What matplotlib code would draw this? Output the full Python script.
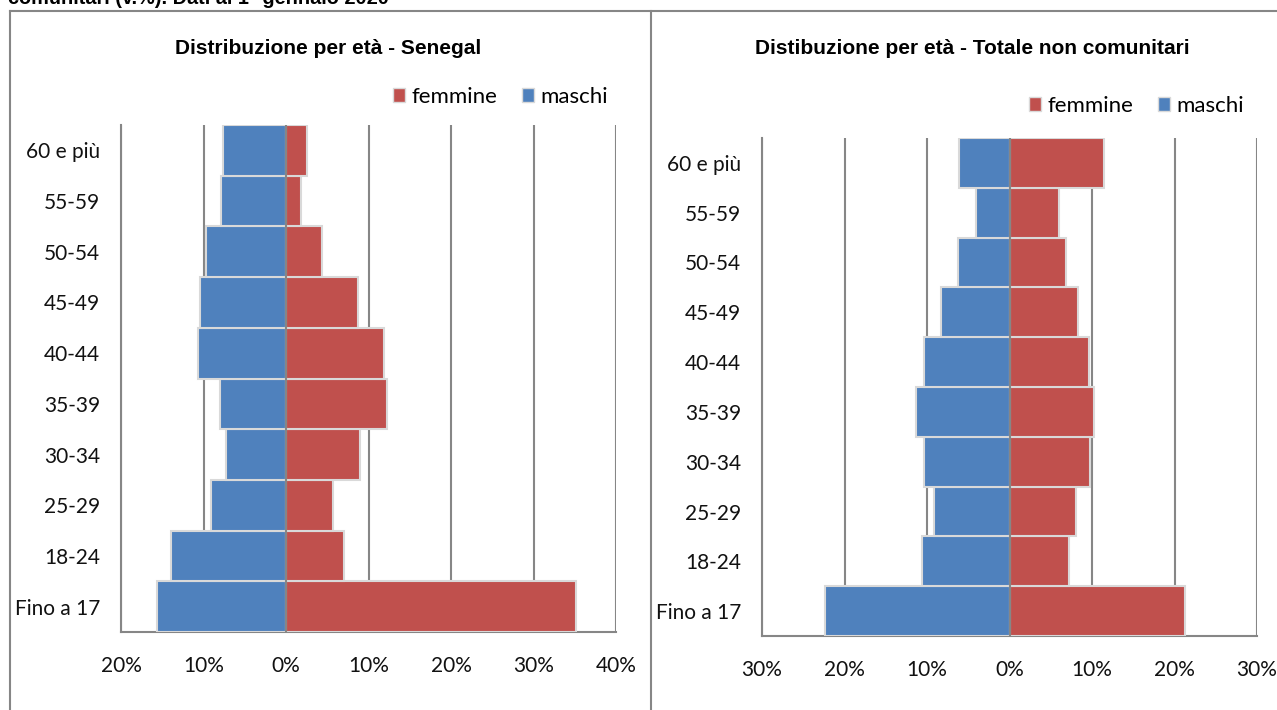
import matplotlib
matplotlib.use("Agg")
import matplotlib.pyplot as plt
from matplotlib.patches import Patch
from matplotlib.lines import Line2D
from matplotlib.ticker import FuncFormatter

categories = ["Fino a 17", "18-24", "25-29", "30-34", "35-39", "40-44",
              "45-49", "50-54", "55-59", "60 e più"]

sen_maschi = [15.6, 13.9, 9.1, 7.3, 8.0, 10.7, 10.4, 9.7, 7.9, 7.6]
sen_femmine = [35.2, 7.0, 5.7, 9.0, 12.2, 11.9, 8.7, 4.4, 1.8, 2.5]

tot_maschi = [22.4, 10.6, 9.1, 10.4, 11.3, 10.4, 8.3, 6.2, 4.1, 6.1]
tot_femmine = [21.3, 7.2, 8.0, 9.8, 10.3, 9.6, 8.3, 6.8, 6.0, 11.5]

sen_ticks = [-20, -10, 0, 10, 20, 30, 40]
tot_ticks = [-30, -20, -10, 0, 10, 20, 30]

title_sen = "Distribuzione per età - Senegal"
title_tot = "Distibuzione per età - Totale non comunitari"
top_text = "comunitari (v.%). Dati al 1° gennaio 2020"

BLUE = "#4F81BD"
RED = "#C0504D"
GRID = "#868686"
EDGE = "#D9D9D9"
FONT = "Lato"

W, H = 1277, 710
fig = plt.figure(figsize=(W / 100, H / 100), dpi=100)
fig.patch.set_facecolor("white")


def px_ax(x0, y0, x1, y1):
    return fig.add_axes([x0 / W, 1 - y1 / H, (x1 - x0) / W, (y1 - y0) / H])


def draw(ax, maschi, femmine, ticks, lim):
    y = list(range(len(categories)))
    neg = [-v for v in maschi]
    ax.barh(y, neg, height=1.0, color=BLUE, edgecolor=EDGE, linewidth=1.5, zorder=3)
    ax.barh(y, femmine, height=1.0, color=RED, edgecolor=EDGE, linewidth=1.5, zorder=3)
    ax.axvline(0, color=GRID, lw=1.5, zorder=4)
    for t in ticks:
        if t != 0:
            ax.axvline(t, color=GRID, lw=1.5, zorder=1)
    ax.set_xlim(lim)
    ax.set_ylim(-0.5, len(categories) - 0.5)
    ax.set_xticks(ticks)
    ax.xaxis.set_major_formatter(FuncFormatter(lambda v, p: f"{abs(int(round(v)))}%"))
    ax.set_yticks(y)
    ax.set_yticklabels(categories)
    for s in ["top", "right"]:
        ax.spines[s].set_visible(False)
    for s in ["left", "bottom"]:
        ax.spines[s].set_color(GRID)
        ax.spines[s].set_linewidth(1.5)
    ax.tick_params(axis="both", length=0, labelsize=15, colors="#111111")
    ax.tick_params(axis="x", pad=17)
    ax.tick_params(axis="y", pad=15)
    for lab in ax.get_xticklabels() + ax.get_yticklabels():
        lab.set_fontfamily(FONT)


ax1 = px_ax(121, 125, 616, 632)
draw(ax1, sen_maschi, sen_femmine, sen_ticks, (-20, 40))
ax2 = px_ax(762, 138, 1257, 636)
draw(ax2, tot_maschi, tot_femmine, tot_ticks, (-30, 30))

fig.text(328 / W, 1 - 49 / H, title_sen, ha="center", va="center",
         fontsize=15, fontweight="bold", family="Liberation Sans")
fig.text(972 / W, 1 - 49 / H, title_tot, ha="center", va="center",
         fontsize=15, fontweight="bold", family="Liberation Sans")
fig.text(8 / W, 1 - 4 / H, top_text, ha="left", va="baseline",
         fontsize=14.3, fontweight="bold", family="Liberation Sans")

# frame lines
fig.add_artist(Line2D([10 / W, 10 / W], [0, 1 - 11 / H], transform=fig.transFigure, color=GRID, lw=1.5))
fig.add_artist(Line2D([10 / W, 1], [1 - 11 / H, 1 - 11 / H], transform=fig.transFigure, color=GRID, lw=1.5))
fig.add_artist(Line2D([651 / W, 651 / W], [0, 1 - 11 / H], transform=fig.transFigure, color=GRID, lw=1.5))

handles = [Patch(facecolor=RED, edgecolor=EDGE), Patch(facecolor=BLUE, edgecolor=EDGE)]
labels = ["femmine", "maschi"]
for cx, cy in [(607, 97), (1243, 106)]:
    fig.legend(handles, labels, ncol=2, loc="center right",
               bbox_to_anchor=(cx / W + 0.001, 1 - cy / H), frameon=False,
               handlelength=0.55, handleheight=0.55, handletextpad=0.3,
               columnspacing=1.1, borderaxespad=0, borderpad=0,
               prop={"family": FONT, "size": 16})

fig.savefig("out.png", dpi=100, facecolor="white")
